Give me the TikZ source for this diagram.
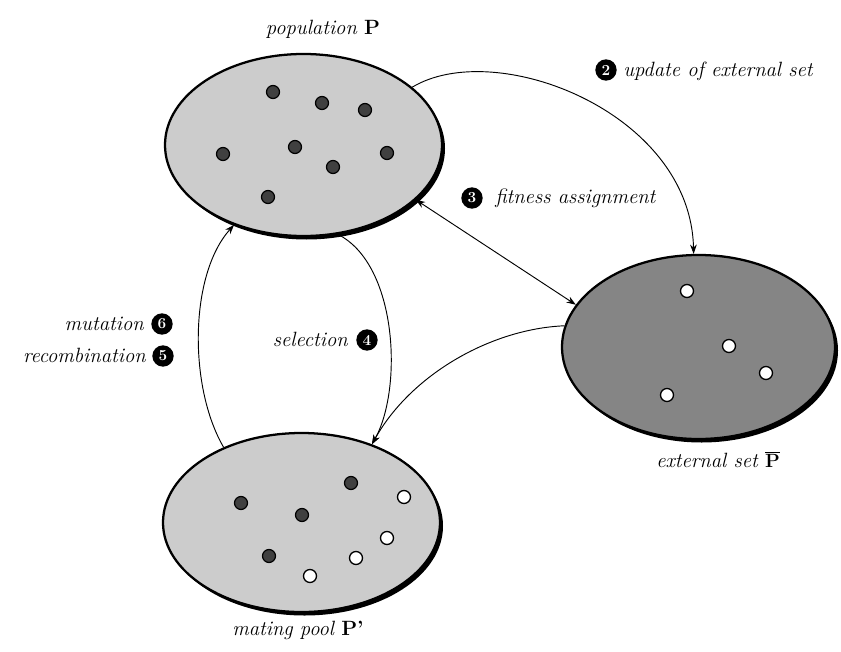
\documentclass[tikz,border=0pt]{standalone}
\usetikzlibrary{arrows.meta,shapes.geometric}
\begin{document}
\begin{tikzpicture}[x=0.75pt,y=-0.75pt,
  >={Stealth[length=7pt,width=5pt]},
  setbox/.style={ellipse, draw=black, line width=1.7pt, inner sep=0pt},
  lightset/.style={setbox, fill=black!20},
  darkset/.style={setbox, fill=black!48},
  shadowset/.style={ellipse, fill=black, draw=none, inner sep=0pt},
  ind/.style={circle, draw=black, line width=0.9pt, fill=black!75, minimum size=9.75pt, inner sep=0pt},
  elite/.style={circle, draw=black, line width=1pt, fill=white, minimum size=9.75pt, inner sep=0pt},
  num/.style={circle, fill=black, text=white, font=\bfseries\fontsize{11.5}{12}\selectfont, minimum size=16pt, inner sep=0pt},
  lab/.style={font=\fontsize{15.5}{18}\selectfont\itshape, inner sep=0pt},
  conn/.style={line width=0.7pt},
]
\useasboundingbox (0,0) rectangle (841,652);

% shadows
\node[shadowset, minimum width=207.75pt, minimum height=136.5pt] (pops) at (306.5,148.5) {};
\node[shadowset, minimum width=204.75pt, minimum height=138pt] (exts) at (701.5,350.5) {};
\node[shadowset, minimum width=207.75pt, minimum height=134.25pt] (pools) at (304.5,526) {};

% sets
\node[lightset, minimum width=207.75pt, minimum height=136.5pt] (pop) at (303.5,145) {};
\node[darkset, minimum width=204.75pt, minimum height=138pt] (ext) at (698.5,347) {};
\node[lightset, minimum width=207.75pt, minimum height=134.25pt] (pool) at (301.5,522.5) {};

% individuals in population
\node[ind] (p1) at (273,92) {};
\node[ind] (p2) at (322,103) {};
\node[ind] (p3) at (365,110) {};
\node[ind] (p4) at (223,154) {};
\node[ind] (p5) at (295,147) {};
\node[ind] (p6) at (333,167) {};
\node[ind] (p7) at (387,153) {};
\node[ind] (p8) at (268,197) {};

% external set
\node[elite] (e1) at (687,291) {};
\node[elite] (e2) at (729,346) {};
\node[elite] (e3) at (766,373) {};
\node[elite] (e4) at (667,395) {};

% mating pool
\node[ind] (m1) at (351,483) {};
\node[ind] (m2) at (241,503) {};
\node[ind] (m3) at (302,515) {};
\node[ind] (m4) at (269,556) {};
\node[elite] (m5) at (404,497) {};
\node[elite] (m6) at (387,538) {};
\node[elite] (m7) at (356,558) {};
\node[elite] (m8) at (310,576) {};

% labels
\node[lab, anchor=base] (lpop) at (323,35) {population {\upshape\bfseries P}};
\node[lab, anchor=base] (lext) at (718,467) {external set $\overline{\mathbf{P}}$};
\node[lab, anchor=base] (lpool) at (298,635) {mating pool {\upshape\bfseries P'}};

\node[num] (n2) at (606,70) {2};
\node[lab, anchor=base west] (lupd) at (623,77) {update of external set};
\node[num] (n3) at (472,198) {3};
\node[lab, anchor=base west] (lfit) at (495,204) {fitness assignment};
\node[num] (n4) at (367,340) {4};
\node[lab, anchor=base east] (lsel) at (348,346) {selection};
\node[num] (n6) at (162,324) {6};
\node[lab, anchor=base east] (lmut) at (144,330) {mutation};
\node[num] (n5) at (163,356) {5};
\node[lab, anchor=base east] (lrec) at (146,362) {recombination};

% connectors
\draw[conn,->] (pop.28) .. controls +(83,-50) and +(-3,-142) .. (ext.93);
\draw[conn,<->] (pop.-26) -- (ext.161);
\draw[conn,->] (pop.-69) .. controls +(60,30) and +(31,-55) .. (pool.48);
\draw[conn,->] (ext.171) .. controls +(-73,3) and +(39,-70) .. (pool.48);
\draw[conn,->] (pool.136) .. controls +(-35,-60) and +(-45,50) .. (pop.229);
\end{tikzpicture}
\end{document}
